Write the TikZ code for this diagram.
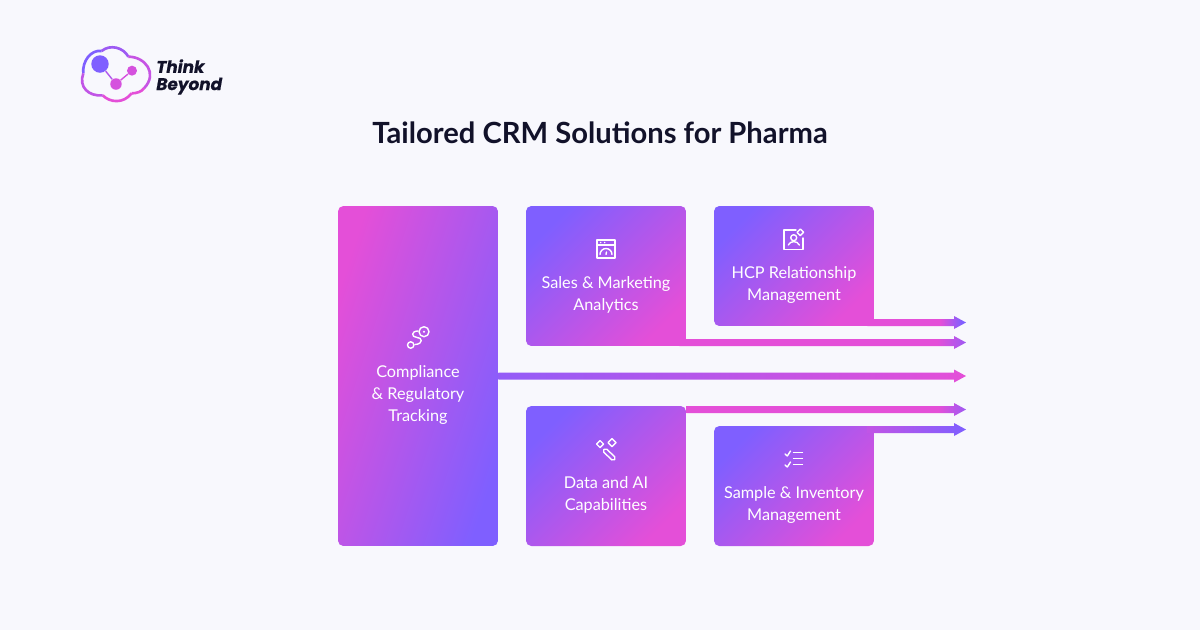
\documentclass[tikz,border=0pt]{standalone}
\usepackage{fontspec}
\setmainfont{Lato}
\newfontfamily\logofont[BoldItalicFeatures={FakeBold=0.5}]{Poppins}
\usetikzlibrary{calc}
\definecolor{crmbg}{HTML}{F8F8FD}
\definecolor{crmink}{HTML}{12122A}
\definecolor{crmpink}{HTML}{E44FD8}
\definecolor{crmpurple}{HTML}{7F5FFF}
\pgfdeclarehorizontalshading{crmtipshort}{100bp}{color(0bp)=(crmpink); color(62bp)=(crmpink); color(73bp)=(crmpurple); color(100bp)=(crmpurple)}
\pgfdeclarehorizontalshading{crmtiplong}{100bp}{color(0bp)=(crmpink); color(70bp)=(crmpink); color(75bp)=(crmpurple!70!crmpink); color(100bp)=(crmpurple)}
\tikzset{
    crmbox/.style={rounded corners=3pt,minimum width=3.2cm,inner sep=0pt,top color=crmpurple,bottom color=crmpink,shading angle=45},
    crmlabel/.style={text=white,align=center,font=\fontsize{9.25}{12.5}\selectfont},
    crmicon/.style={draw=white,line width=0.8pt,line cap=round,line join=round}
}
% shaft and head of one arrow, from a start coordinate to a tip coordinate
\newcommand{\crmarrow}[3]{
    \shade[#3] ($(#1)+(0,-3.5)$) -- ($(#2)+(-12,-3.5)$) -- ($(#2)+(-12,-6.5)$) -- (#2)
        -- ($(#2)+(-12,6.5)$) -- ($(#2)+(-12,3.5)$) -- ($(#1)+(0,3.5)$) -- cycle;
}
\newcommand{\crmspark}[3]{
    \draw[crmicon] (#1+#3,#2) -- (#1,#2+#3) -- (#1-#3,#2) -- (#1,#2-#3) -- cycle;
}
\begin{document}
\begin{tikzpicture}[x=0.02cm,y=-0.02cm]
    \fill[crmbg] (0,0) rectangle (1200,630);
    \useasboundingbox (0,0) rectangle (1200,630);

    % logo
    \begin{scope}[shift={(60,30)},x=0.00667cm,y=-0.00667cm]
        \coordinate (c1) at (70,130);
        \coordinate (c2) at (125,63);
        \coordinate (c3) at (205,80);
        \coordinate (c4) at (252,175);
        \coordinate (c5) at (215,190);
        \coordinate (c6) at (128,196);
        \draw[line width=1.5pt,crmpurple] (c1) .. controls (66,95) and (92,58) .. (c2);
        \draw[line width=1.5pt,crmpurple!70!crmpink] (c2) .. controls (150,42) and (190,52) .. (c3);
        \draw[line width=1.5pt,crmpurple!30!crmpink] (c3) .. controls (255,80) and (295,130) .. (c4);
        \draw[line width=1.5pt,crmpink] (c4) .. controls (245,185) and (230,190) .. (c5);
        \draw[line width=1.5pt,crmpink] (c5) .. controls (190,222) and (150,218) .. (c6);
        \draw[line width=1.5pt,crmpurple!35!crmpink] (c6) .. controls (85,200) and (55,170) .. (c1);
        \node[circle,fill=crmpurple,minimum size=0.35cm,inner sep=0pt] (hub) at (120,102) {};
        \node[circle,fill=crmpink!85!crmpurple,minimum size=0.23cm,inner sep=0pt] (hubb) at (168,162) {};
        \node[circle,fill=crmpink!85!crmpurple,minimum size=0.2cm,inner sep=0pt] (hubc) at (216,122) {};
        \draw[line width=0.8pt,crmpurple!50!crmpink] (hub)--(hubb);
        \draw[line width=0.8pt,crmpink!85!crmpurple] (hubb)--(hubc);
    \end{scope}
    \node[anchor=north west,inner sep=0pt,text=crmink,align=left,font=\logofont\bfseries\itshape\fontsize{9.6}{9.8}\selectfont] (brand) at (156,59) {Think\\Beyond};

    \node[text=crmink,font=\fontsize{16.6}{20}\selectfont\bfseries] (title) at (600,133) {Tailored CRM Solutions for Pharma};

    % boxes
    \node[crmbox,top color=crmpink,bottom color=crmpurple,shading angle=72,minimum height=6.8cm] (comp) at (418,376) {};
    \node[crmbox,minimum height=2.8cm] (sales) at (606,276) {};
    \node[crmbox,minimum height=2.4cm] (hcp) at (794,266) {};
    \node[crmbox,minimum height=2.8cm] (data) at (606,476) {};
    \node[crmbox,minimum height=2.4cm] (sample) at (794,486) {};

    % arrows
    \coordinate (tiphcp) at (966,322.5);
    \coordinate (tipsales) at (966,342.5);
    \coordinate (tipcomp) at (966,376);
    \coordinate (tipdata) at (966,409.5);
    \coordinate (tipsample) at (966,429.5);
    \coordinate (starthcp) at ($(hcp.east |- tiphcp)+(-7,0)$);
    \coordinate (startsales) at ($(sales.east |- tipsales)+(-7,0)$);
    \coordinate (startsample) at ($(sample.east |- tipsample)+(-7,0)$);
    \crmarrow{starthcp}{tiphcp}{shading=crmtipshort}
    \crmarrow{startsales}{tipsales}{shading=crmtiplong}
    \crmarrow{comp.east |- tipcomp}{tipcomp}{left color=crmpurple!80!crmpink,right color=crmpink}
    \crmarrow{data.east |- tipdata}{tipdata}{shading=crmtiplong}
    \crmarrow{startsample}{tipsample}{left color=crmpurple!35!crmpink,right color=crmpurple}

    % labels
    \node[crmlabel] (complabel) at (418,395) {Compliance\\\& Regulatory\\Tracking};
    \node[crmlabel] (saleslabel) at (606,295) {Sales \& Marketing\\Analytics};
    \node[crmlabel] (hcplabel) at (794,285) {HCP Relationship\\Management};
    \node[crmlabel] (datalabel) at (606,495) {Data and AI\\Capabilities};
    \node[crmlabel] (samplelabel) at (794,505) {Sample \& Inventory\\Management};

    % icon: route
    \draw[crmicon] (410.7,345) circle (3.2);
    \draw[crmicon] (424,331.7) circle (5);
    \fill[white] (424,331.7) circle (1.2);
    \draw[crmicon] (415,344.5) .. controls (424,344) and (422,337) .. (417,337.5) .. controls (411,337) and (411,331) .. (418,331);

    % icon: browser gauge
    \draw[crmicon] (597,240) rectangle (615,258);
    \draw[crmicon] (597,245) -- (615,245);
    \fill[white] (600.7,242.5) circle (0.8);
    \fill[white] (604.7,242.5) circle (0.8);
    \draw[crmicon] (600,254.5) arc (180:360:6);
    \draw[crmicon] (606,254.5) -- (606.5,252);

    % icon: profile
    \draw[crmicon] (796,230) -- (784,230) -- (784,249.5) -- (803,249.5) -- (803,238);
    \draw[crmicon] (793.7,237.7) circle (3);
    \draw[crmicon] (788.3,245) .. controls (790,240.5) and (797.5,240.5) .. (799.3,245);
    \crmspark{800.3}{232.3}{3.3}

    % icon: wand
    \draw[crmicon,rounded corners=1pt] (602.5,451) -- (605.5,448) -- (616,458) -- (613,461) -- cycle;
    \crmspark{600}{444}{3.5}
    \crmspark{612}{442.7}{4}

    % icon: checklist
    \draw[crmicon] (785,454) -- (787.3,456) -- (790.5,451);
    \draw[crmicon] (785,465) -- (787.3,467) -- (790.5,462);
    \draw[crmicon] (793.5,452.7) -- (802.5,452.7);
    \draw[crmicon] (793.5,458.5) -- (802.5,458.5);
    \draw[crmicon] (793.5,464.3) -- (802.5,464.3);
\end{tikzpicture}
\end{document}
